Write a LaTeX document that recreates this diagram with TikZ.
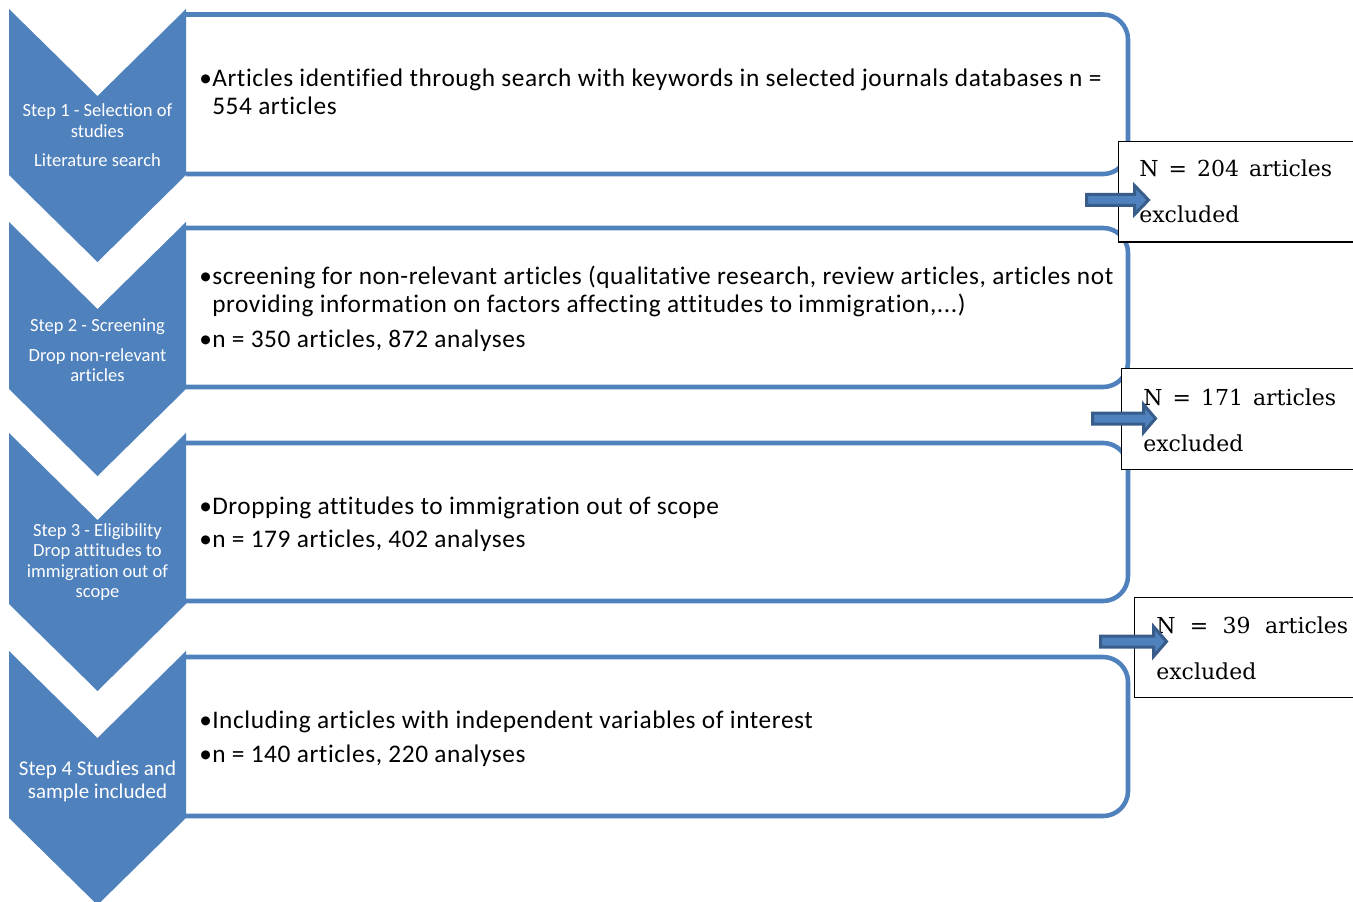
\documentclass[tikz,border=0pt]{standalone}
\usepackage{fontspec}
\setmainfont{Carlito}[Ligatures=NoCommon]
\newfontfamily\boxfont{Carlito}[LetterSpace=2.3, Ligatures=NoCommon]
\newfontfamily\exfont{DejaVu Serif}
\definecolor{stepblue}{HTML}{4F81BD}
\definecolor{arrowedge}{HTML}{385D8A}
\newdimen\pxu \pxu=0.75pt
\begin{document}
\begin{tikzpicture}[x=0.75pt,y=-0.75pt,
  chev/.style={fill=stepblue, draw=none},
  boxline/.style={draw=stepblue, line width=3.4pt, rounded corners=18.75pt},
  steptext/.style={text=white, inner sep=0pt, anchor=base, font=\fontsize{13.9}{15.4}\selectfont},
  bigsteptext/.style={text=white, inner sep=0pt, anchor=base, font=\fontsize{15.75}{17.25}\selectfont},
  maintext/.style={inner sep=0pt, anchor=base west, font=\boxfont\fontsize{19}{21}\selectfont},
  exbox/.style={draw=black, line width=1pt, fill=white, inner sep=0pt, outer sep=0pt, anchor=north west, minimum width=260\pxu},
  extext/.style={inner sep=0pt, anchor=base west, font=\exfont\fontsize{16.5}{19.5}\selectfont},
  blockarrow/.style={fill=stepblue, draw=arrowedge, line width=2.25pt, line join=miter}]
\useasboundingbox (0,0) rectangle (1353,902);
\clip (0,0) rectangle (1353,902);

% content boxes (open on the left, hidden by the chevrons)
\draw[boxline] (186,14.5) -- (1128,14.5) -- (1128,174) -- (186,174);
\draw[boxline] (186,228) -- (1128,228) -- (1128,387) -- (186,387);
\draw[boxline] (186,443) -- (1128,443) -- (1128,601) -- (186,601);
\draw[boxline] (186,657) -- (1128,657) -- (1128,816) -- (186,816);

% chevrons
\fill[chev] (9,9) -- (97.5,96) -- (186,9) -- (186,175) -- (97.5,262) -- (9,175) -- cycle;
\fill[chev] (9,222) -- (97.5,309) -- (186,222) -- (186,389) -- (97.5,476) -- (9,389) -- cycle;
\fill[chev] (9,433) -- (97.5,520) -- (186,433) -- (186,604) -- (97.5,691) -- (9,604) -- cycle;
\fill[chev] (9,651) -- (97.5,738) -- (186,651) -- (186,818) -- (97.5,905) -- (9,818) -- cycle;

% step labels
\node[steptext] (s1) at (97.5,117) {\begin{tabular}[t]{@{}c@{}}Step 1 - Selection of\\studies\\[6pt]Literature search\end{tabular}};
\node[steptext] (s2) at (97.5,332) {\begin{tabular}[t]{@{}c@{}}Step 2 - Screening\\[6.4pt]Drop non-relevant\\articles\end{tabular}};
\node[steptext] (s3) at (97.5,536) {\begin{tabular}[t]{@{}c@{}}Step 3 - Eligibility\\Drop attitudes to\\immigration out of\\scope\end{tabular}};
\node[bigsteptext] (s4) at (97.5,775) {\begin{tabular}[t]{@{}c@{}}Step 4 Studies and\\sample included\end{tabular}};

% box texts
\node[maintext] (t1) at (199,87) {\begin{tabular}[t]{@{}p{13\pxu}@{}p{1000\pxu}@{}}
\textbullet & Articles identified through search with keywords in selected journals databases n =\newline 554 articles\end{tabular}};
\node[maintext] (t2) at (199,285) {\begin{tabular}[t]{@{}p{13\pxu}@{}p{1000\pxu}@{}}
\textbullet & screening for non-relevant articles (qualitative research, review articles, articles not\newline providing information on factors affecting attitudes to immigration,...)\\[5.25pt]
\textbullet & n = 350 articles, 872 analyses\end{tabular}};
\node[maintext] (t3) at (199,514) {\begin{tabular}[t]{@{}p{13\pxu}@{}p{1000\pxu}@{}}
\textbullet & Dropping attitudes to immigration out of scope\\[3.75pt]
\textbullet & n = 179 articles, 402 analyses\end{tabular}};
\node[maintext] (t4) at (199,728) {\begin{tabular}[t]{@{}p{13\pxu}@{}p{1000\pxu}@{}}
\textbullet & Including articles with independent variables of interest\\[4.5pt]
\textbullet & n = 140 articles, 220 analyses\end{tabular}};

% exclusion boxes
\node[exbox, minimum height=100.5\pxu] (e1) at (1118.5,141.5) {};
\node[exbox, minimum height=101\pxu] (e2) at (1121.5,368.5) {};
\node[exbox, minimum height=100\pxu] (e3) at (1134.5,597.5) {};
\node[extext] (x1) at (1139,177) {\begin{tabular}[t]{@{}l@{}}\makebox[193\pxu][s]{N = 204 articles}\\[15pt]excluded\end{tabular}};
\node[extext] (x2) at (1143,405) {\begin{tabular}[t]{@{}l@{}}\makebox[193\pxu][s]{N = 171 articles}\\[15pt]excluded\end{tabular}};
\node[extext] (x3) at (1156,633) {\begin{tabular}[t]{@{}l@{}}\makebox[192\pxu][s]{N = 39 articles}\\[15pt]excluded\end{tabular}};

% block arrows
\draw[blockarrow] (1086.5,194.5) -- (1134.5,194.5) -- (1134.5,185.5) -- (1148.5,200) -- (1134.5,214.5) -- (1134.5,205.5) -- (1086.5,205.5) -- cycle;
\draw[blockarrow] (1092.5,413) -- (1143.5,413) -- (1143.5,404.5) -- (1155.5,418.5) -- (1143.5,432.5) -- (1143.5,424) -- (1092.5,424) -- cycle;
\draw[blockarrow] (1100.5,636) -- (1153.5,636) -- (1153.5,626.5) -- (1166.5,641.5) -- (1153.5,656.5) -- (1153.5,647) -- (1100.5,647) -- cycle;
\end{tikzpicture}
\end{document}
